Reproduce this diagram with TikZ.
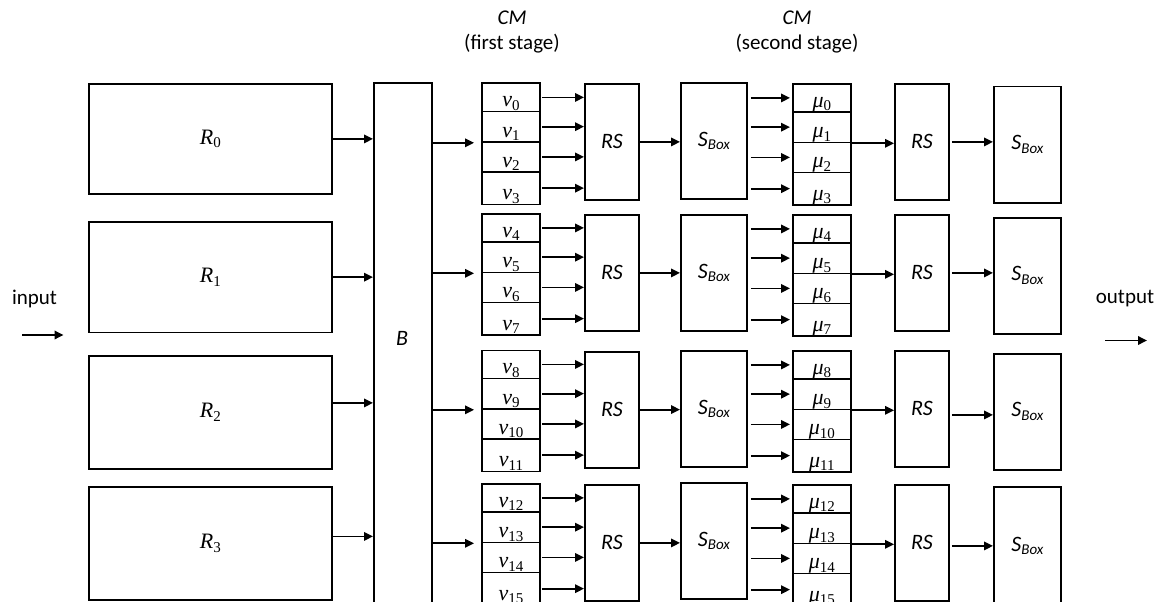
\documentclass[tikz,border=0pt]{standalone}
\usepackage{fontspec}
\setmainfont{Liberation Serif}
\newfontfamily\calib{Carlito}
\usetikzlibrary{arrows.meta}
\newcommand\lo[1]{\raisebox{-0.35ex}{\fontsize{15}{15}\selectfont #1}}
\begin{document}
\begin{tikzpicture}[x=1pt,y=-1pt,line width=1.8pt,
  box/.style={draw,rectangle,inner sep=0pt,anchor=north west},
  arr/.style={-{Triangle[length=9pt,width=8.5pt]},line width=1.8pt},
  sflab/.style={font=\calib\fontsize{22}{26}\selectfont\itshape},
  serlab/.style={font=\fontsize{22}{26}\selectfont},
  plain/.style={font=\calib\fontsize{21}{25}\selectfont}]
\useasboundingbox (0,0) rectangle (1154,602);
\clip (0,0) rectangle (1154,602);

% titles
\node[plain,font=\calib\fontsize{21}{25}\selectfont\itshape] (cm1) at (512,18) {CM};
\node[plain] (fs1) at (512,44) {(first stage)};
\node[plain,font=\calib\fontsize{21}{25}\selectfont\itshape] (cm2) at (797,18) {CM};
\node[plain] (fs2) at (797,44) {(second stage)};

% input / output
\node[plain] (inp) at (34.5,299) {input};
\node[plain] (outp) at (1125,299) {output};
\coordinate (i1) at (22,335);
\coordinate (i2) at (63.5,335);
\coordinate (o1) at (1105,340.5);
\coordinate (o2) at (1147,340.5);
\draw[arr] (i1) -- (i2);
\draw[arr] (o1) -- (o2);

% B box
\node[box,minimum width=58,minimum height=560,sflab] (B) at (373,82.5) {};
\node[sflab] (Blab) at (402,338) {B};

% R boxes
\foreach \g/\T/\H/\d in {0/83/110/0,1/221/110.5/0,2/355/113/9.5,3/486/113/7}{
  \node[box,minimum width=243,minimum height=\H] (R\g) at (88,\T) {};
  \node[serlab] at (R\g.center) {\textit{R}\lo{\g}};
  \draw[arr] ([yshift=\d pt]R\g.east) -- ([yshift=\d pt]R\g.east -| B.west);
}

% stages
\foreach \g/\T/\Tr/\Ts/\Tm/\Tb/\Hb/\e in {0/82.5/83/82/83/85.7/116/0,1/213/214/214/214/216.7/116/0,2/349.5/350.7/350/350/352.7/116/-6,3/483/484/482/484/486/118/-3}{
  \node[box,minimum width=54,minimum height=116] (rs\g) at (584,\Tr) {};
  \node[sflab] at (rs\g.center) {RS};
  \node[box,minimum width=66,minimum height=116] (sb\g) at (680,\Ts) {};
  \node[sflab] at (sb\g.center) {S\lo{Box}};
  \node[box,minimum width=54,minimum height=116] (rsb\g) at (894,\Tm) {};
  \node[sflab] at (rsb\g.center) {RS};
  \node[box,minimum width=67,minimum height=\Hb] (sbb\g) at (993,\Tb) {};
  \node[sflab] at (sbb\g.center) {S\lo{Box}};
  \foreach \r/\o/\h in {0/0/28,1/28/30.5,2/58.5/30,3/88.5/32.5}{
    \pgfmathtruncatemacro\n{4*\g+\r}
    \node[box,minimum width=58,minimum height=\h] (v\n) at (481,\T+\o) {};
    \node[serlab,anchor=base,yshift=5.5pt] at (v\n.south) {\textit{v}\lo{\n}};
    \node[box,minimum width=58,minimum height=\h] (mu\n) at (792,\Tm+\o) {};
    \node[serlab,anchor=base,yshift=5.5pt] at (mu\n.south) {\textit{μ}\lo{\n}};
    \draw[arr,shorten <=1pt] (v\n.east) -- (v\n.east -| rs\g.west);
    \draw[arr,shorten <=3pt,shorten >=2pt] (mu\n.west -| sb\g.east) -- (mu\n.west);
  }
  \pgfmathtruncatemacro\m{4*\g+1}
  \draw[arr,shorten >=7pt] (v\m.south west -| B.east) -- (v\m.south west);
  \draw[arr] (rs\g.east) -- (rs\g.east -| sb\g.west);
  \draw[arr] (mu\m.south east) -- (mu\m.south east -| rsb\g.west);
  \draw[arr,shorten <=2pt] ([yshift=\e pt]rsb\g.east) -- ([yshift=\e pt]rsb\g.east -| sbb\g.west);
}
\end{tikzpicture}
\end{document}
